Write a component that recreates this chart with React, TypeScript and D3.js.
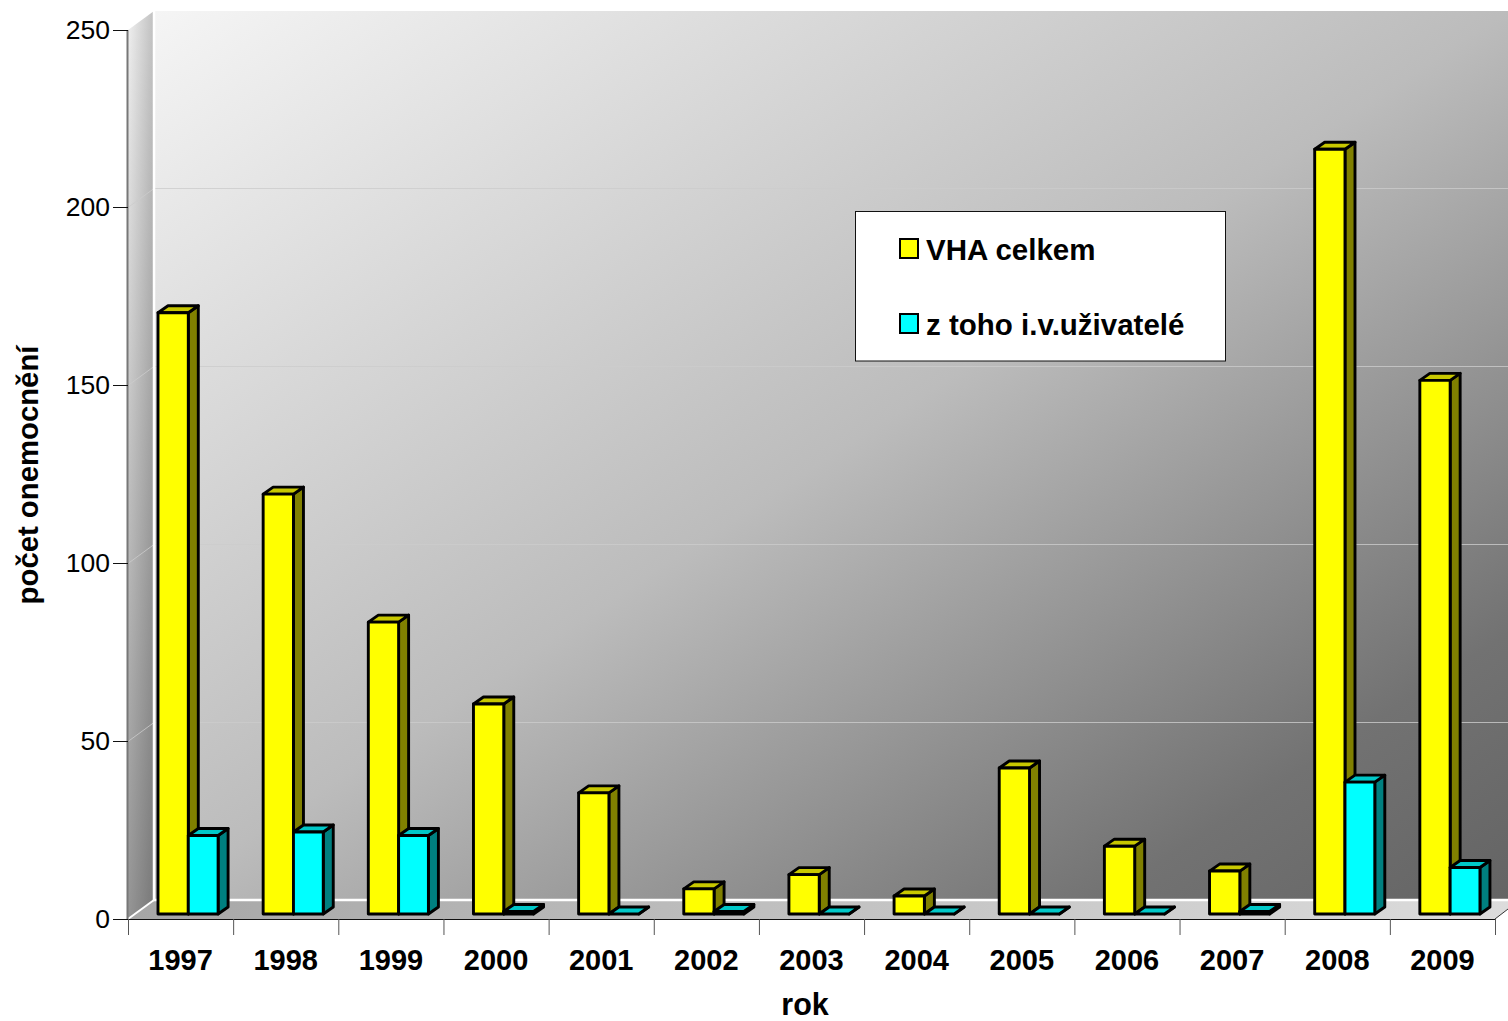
import React from "react";
import * as d3 from "d3";

const years = ["1997","1998","1999","2000","2001","2002","2003","2004","2005","2006","2007","2008","2009"];
const vhaTotal = [170,119,83,60,35,8,12,6,42,20,13,216,151];
const ivUsers = [23,24,23,1,0,1,0,0,0,0,1,38,14];
const yTicks = [0,50,100,150,200,250];
const legendItems = ["VHA celkem","z toho i.v.uživatelé"];

const W = 1508, H = 1021;
const FONT = "'Liberation Sans', Arial, sans-serif";
const axisX = 128, axisY0 = 919, axisY1 = 30;
const wallDx = 26, wallDy = -19;
const barDx = 10, barDy = -7;
const barBase = 914;

const yAxis = d3.scaleLinear().domain([0,250]).range([axisY0,axisY1]);
const yPix = (t:number) => Math.floor(yAxis(t))+0.5;
const yBar = d3.scaleLinear().domain([0,250]).range([917.3,917.3-889]);
const xBand = d3.scaleBand<string>().domain(years).range([axisX,1495]);
const xTicks = [...years.map(y=>xBand(y)!), 1495];

function Bar({x,w,v,front,top,side}:{x:number,w:number,v:number,front:string,top:string,side:string}){
  const y = Math.min(yBar(v), v>0 ? barBase-2.5 : barBase);
  const topPts = [[x,y],[x+barDx,y+barDy],[x+w+barDx,y+barDy],[x+w,y]].join(" ");
  const sidePts = [[x+w,y],[x+w+barDx,y+barDy],[x+w+barDx,barBase+barDy],[x+w,barBase]].join(" ");
  return <g stroke="#000" strokeWidth={2.9} strokeLinejoin="round">
    <polygon points={sidePts} fill={side}/>
    <polygon points={topPts} fill={top}/>
    <rect x={x} y={y} width={w} height={barBase-y} fill={front}/>
  </g>;
}

export default function App(){
  const wallL = axisX+wallDx, wallB = axisY0+wallDy, wallT = axisY1+wallDy;
  const step = xBand.step();
  const barW = 30.3;
  const offset = 30;
  const sidePts = [[axisX,axisY1],[wallL,wallT],[wallL,wallB],[axisX,axisY0]].join(" ");
  return (
    <svg width={W} height={H} viewBox={`0 0 ${W} ${H}`} style={{position:"absolute",left:0,top:0,display:"block",background:"#fff"}}>
      <defs>
        <linearGradient id="wall" x1="0" y1="0" x2="1" y2="1">
          <stop offset="0" stopColor="#f5f5f5"/>
          <stop offset="0.5" stopColor="#bcbcbc"/>
          <stop offset="0.85" stopColor="#727272"/>
          <stop offset="1" stopColor="#646464"/>
        </linearGradient>
        <linearGradient id="floor" gradientUnits="userSpaceOnUse" x1={axisX} y1={0} x2={W} y2={0}>
          <stop offset="0" stopColor="#a6a6a6"/>
          <stop offset="1" stopColor="#dcdcdc"/>
        </linearGradient>
        <linearGradient id="side" gradientUnits="userSpaceOnUse" x1={axisX} y1={0} x2={wallL} y2={0}>
          <stop offset="0" stopColor="#f0f0f0"/>
          <stop offset="1" stopColor="#c0c0c0"/>
        </linearGradient>
        <linearGradient id="sideShade" x1="0" y1="0" x2="0" y2="1">
          <stop offset="0" stopColor="#000" stopOpacity="0"/>
          <stop offset="1" stopColor="#000" stopOpacity="0.38"/>
        </linearGradient>
      </defs>

      <rect x={wallL} y={wallT} width={W-wallL} height={wallB-wallT} fill="url(#wall)"/>
      <polygon points={sidePts} fill="url(#side)"/>
      <polygon points={sidePts} fill="url(#sideShade)"/>
      <polygon points={[[axisX,axisY0],[wallL,wallB],[W,wallB],[W,axisY0-10],[1495,axisY0]].join(" ")} fill="url(#floor)"/>

      {yTicks.slice(1,-1).map(t=>(
        <g key={t} stroke="#cccccc" strokeOpacity={0.8} strokeWidth={1}>
          <line x1={wallL} x2={W} y1={yPix(t)+wallDy} y2={yPix(t)+wallDy}/>
          <line x1={axisX} x2={wallL} y1={yPix(t)} y2={yPix(t)+wallDy}/>
        </g>
      ))}
      <polyline points={[[wallL,wallT],[wallL,wallB],[W,wallB]].join(" ")} fill="none" stroke="#fff" strokeWidth={2.5}/>
      <line x1={axisX} y1={axisY0} x2={wallL} y2={wallB} stroke="#fff" strokeWidth={2}/>
      <line x1={1495} y1={axisY0} x2={W} y2={axisY0-10} stroke="#333" strokeWidth={1}/>

      <line x1={axisX-0.5} x2={axisX-0.5} y1={axisY1} y2={axisY0} stroke="#777" strokeWidth={2}/>
      <line x1={axisX} x2={1495} y1={axisY0+0.5} y2={axisY0+0.5} stroke="#111" strokeWidth={1}/>
      {yTicks.map(t=>(
        <g key={t}>
          <line x1={113} x2={axisX} y1={yPix(t)} y2={yPix(t)} stroke="#111" strokeWidth={1}/>
          <text x={110} y={yAxis(t)+8.5} textAnchor="end" fontFamily={FONT} fontSize={26.5} fill="#000">{t}</text>
        </g>
      ))}
      {xTicks.map((x,i)=>(
        <line key={i} x1={x+0.5} x2={x+0.5} y1={axisY0} y2={935} stroke="#555" strokeWidth={1}/>
      ))}
      {years.map(y=>(
        <text key={y} x={xBand(y)!+step/2} y={970} textAnchor="middle" fontFamily={FONT} fontWeight="bold" fontSize={29} fill="#000">{y}</text>
      ))}

      {years.map((y,i)=>{
        const x = xBand(y)!+offset;
        return <g key={y}>
          <Bar x={x} w={barW} v={vhaTotal[i]} front="#ffff00" top="#c8c800" side="#808000"/>
          <Bar x={x+barW} w={barW-0.5} v={ivUsers[i]} front="#00ffff" top="#00c8c8" side="#008080"/>
        </g>;
      })}

      <text x={805} y={1015} textAnchor="middle" fontFamily={FONT} fontWeight="bold" fontSize={30.5} fill="#000">rok</text>
      <text transform="translate(38,475) rotate(-90)" textAnchor="middle" fontFamily={FONT} fontWeight="bold" fontSize={29.3} fill="#000">počet onemocnění</text>

      <rect x={855.5} y={211.5} width={370} height={149.5} fill="#fff" stroke="#111" strokeWidth={1}/>
      {legendItems.map((t,i)=>(
        <g key={t}>
          <rect x={900} y={239+i*75} width={18} height={19} fill={i===0?"#ffff00":"#00ffff"} stroke="#000" strokeWidth={2}/>
          <text x={926} y={260+i*75} fontFamily={FONT} fontWeight="bold" fontSize={29.5} fill="#000">{t}</text>
        </g>
      ))}
    </svg>
  );
}
